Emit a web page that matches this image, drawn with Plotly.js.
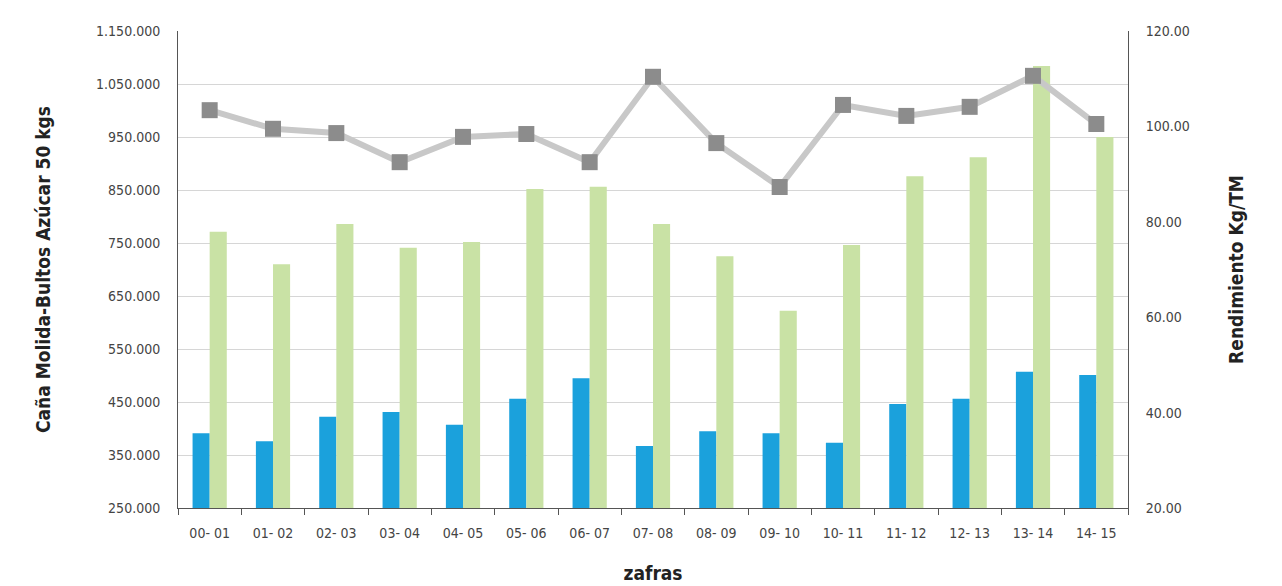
<!DOCTYPE html>
<html>
<head>
<meta charset="utf-8">
<script src="https://cdn.plot.ly/plotly-3.0.1.min.js"></script>
<style>body{margin:0;background:#fff}#chart{width:1282px;height:586px}</style>
</head>
<body>
<div id="chart"></div>
<script>
// Datos de las zafras
var zafras = ['00- 01','01- 02','02- 03','03- 04','04- 05','05- 06','06- 07','07- 08','08- 09','09- 10','10- 11','11- 12','12- 13','13- 14','14- 15'];
var bultosAzucar = [391000,376000,422000,431000,407000,456000,495000,367000,395000,391000,373000,446000,456000,507000,501000];
var canaMolida = [771000,710000,786000,741000,752000,852000,856000,786000,725000,622000,746000,876000,912000,1084000,950000];
var rendimiento = [103.4,99.5,98.6,92.5,97.8,98.4,92.5,110.4,96.5,87.3,104.5,102.2,104.1,110.6,100.5];
var leftTicks = [250000,350000,450000,550000,650000,750000,850000,950000,1050000,1150000];
var leftLabels = ['250.000','350.000','450.000','550.000','650.000','750.000','850.000','950.000','1.050.000','1.150.000'];

var titleFont = {family: 'DejaVu Sans Condensed, Liberation Sans Narrow, sans-serif', size: 19, color: '#222'};
var tickFont = {family: 'DejaVu Sans Condensed, Liberation Sans Narrow, sans-serif', size: 14, color: '#444'};

var traces = [
  {x: zafras, y: bultosAzucar, type: 'bar', marker: {color: '#1ba1dc'}, name: 'Bultos Azúcar'},
  {x: zafras, y: canaMolida, type: 'bar', marker: {color: '#c9e2a5'}, name: 'Caña Molida'},
  {x: zafras, y: rendimiento, type: 'scatter', mode: 'lines+markers', yaxis: 'y2', name: 'Rendimiento',
   line: {color: '#c8c8c8', width: 6}, marker: {symbol: 'square', size: 16, color: '#8c8c8c'}}
];

var layout = {
  width: 1282, height: 586,
  margin: {l: 178, r: 154, t: 31, b: 78},
  showlegend: false,
  barmode: 'group', bargap: 0.46, bargroupgap: 0,
  plot_bgcolor: '#fff', paper_bgcolor: '#fff',
  xaxis: {
    range: [-0.5, zafras.length - 0.5],
    tickfont: tickFont, showline: true, linecolor: '#555', ticks: 'outside', tickson: 'boundaries',
    ticklen: 6, tickcolor: '#555', showgrid: false, ticklabelstandoff: 12,
    title: {text: '<b>zafras</b>', font: titleFont, standoff: 26}
  },
  yaxis: {
    range: [250000, 1150000], tickvals: leftTicks, ticktext: leftLabels, tickfont: tickFont,
    showgrid: true, gridcolor: '#d6d6d6', showline: true, linecolor: '#555', zeroline: false,
    ticks: '', ticklabelstandoff: 14,
    title: {text: '<b>Caña Molida-Bultos Azúcar 50 kgs</b>', font: titleFont, standoff: 40}
  },
  yaxis2: {
    overlaying: 'y', side: 'right', range: [20, 120], dtick: 20, tickformat: '.2f',
    tickfont: tickFont, showgrid: false, showline: true, linecolor: '#555', zeroline: false,
    ticks: '', ticklabelstandoff: 14,
    title: {text: '<b>Rendimiento Kg/TM</b>', font: titleFont, standoff: 40}
  }
};

Plotly.newPlot('chart', traces, layout, {displayModeBar: false});
</script>
</body>
</html>
